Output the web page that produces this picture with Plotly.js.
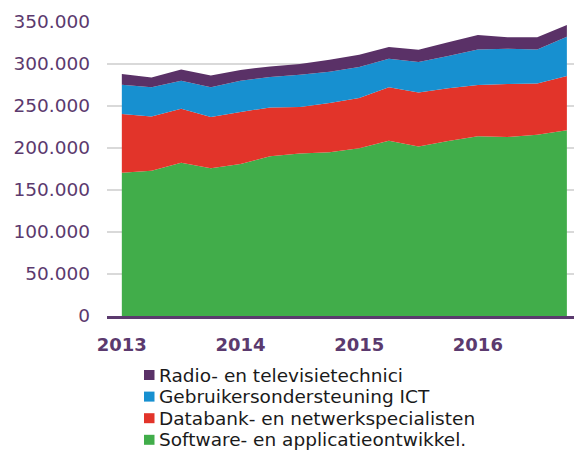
<!DOCTYPE html>
<html>
<head>
<meta charset="utf-8">
<script src="https://cdn.plot.ly/plotly-3.0.1.min.js"></script>
<style>html,body{margin:0;padding:0;background:#fff;overflow:hidden}#chart{width:574px;height:450px}</style>
</head>
<body>
<div id="chart"></div>
<script>
const quarters = ['2013-Q1','2013-Q2','2013-Q3','2013-Q4','2014-Q1','2014-Q2','2014-Q3','2014-Q4',
                  '2015-Q1','2015-Q2','2015-Q3','2015-Q4','2016-Q1','2016-Q2','2016-Q3','2016-Q4'];
const yearTickVals = ['2013-Q1','2014-Q1','2015-Q1','2016-Q1'];
const yearTickText = ['2013','2014','2015','2016'];

const software   = [170600,173000,182500,176000,181000,190200,193600,195000,199600,208700,201900,208300,213900,213100,215800,221000];
const databank   = [69900,64600,64300,60900,61900,58100,55200,58700,59900,63500,64300,62700,61100,63100,61100,64700];
const gebruikers = [34900,34600,33300,35300,37200,36200,38500,37100,36900,34100,36200,38500,42400,42000,40500,46800];
const radio      = [12700,11800,13500,14200,12800,12600,12700,14200,14700,13900,14600,16300,17100,13500,14300,13900];

const seriesNames  = ['Software- en applicatieontwikkel.','Databank- en netwerkspecialisten','Gebruikersondersteuning ICT','Radio- en televisietechnici'];
const seriesValues = [software, databank, gebruikers, radio];
const seriesColors = ['#41ad4a','#e2342a','#1790d0','#5a3167'];

const traces = seriesValues.map((vals, i) => ({
  type: 'scatter',
  x: quarters,
  y: vals,
  name: seriesNames[i],
  stackgroup: 'one',
  mode: 'none',
  fill: 'tonexty',
  fillcolor: seriesColors[i],
  showlegend: false,
  hoverinfo: 'x+y+name'
}));

// Legend drawn below the plot (top item = last series)
const plotLeft = 107, plotWidth = 467, plotTop = 22, plotHeight = 294;
const px = p => (p - plotLeft) / plotWidth;
const py = p => (plotTop + plotHeight - p) / plotHeight;
const legendFirstY = 375, legendStep = 21.6;
const shapes = [], annotations = [];
for (let k = 0; k < 4; k++) {
  const i = 3 - k;
  const cy = legendFirstY + k * legendStep;
  shapes.push({type:'rect', xref:'paper', yref:'paper',
    x0: px(144), x1: px(154.5), y0: py(cy - 5), y1: py(cy + 5),
    fillcolor: seriesColors[i], line:{width:0}});
  annotations.push({xref:'paper', yref:'paper', x: px(157), y: py(cy),
    xanchor:'left', yanchor:'middle', showarrow:false, text: seriesNames[i],
    font:{family:'DejaVu Sans', size:18.5, color:'#1a1a1a'}});
}

const layout = {
  width: 574, height: 450,
  margin: {l: plotLeft, r: 0, t: plotTop, b: 450 - plotTop - plotHeight, pad: 0},
  paper_bgcolor: '#ffffff', plot_bgcolor: '#ffffff',
  separators: ',.',
  showlegend: false,
  xaxis: {
    type: 'category',
    range: [-0.5, 15.24],
    tickvals: yearTickVals, ticktext: yearTickText,
    ticks: '', showgrid: false, zeroline: false,
    showline: true, linecolor: '#5b3a6e', linewidth: 2.5,
    tickfont: {family: 'DejaVu Sans', size: 18, color: '#5b3a6e', weight: 'bold'},
    ticklabelstandoff: 11
  },
  yaxis: {
    range: [0, 350000], dtick: 50000, tickformat: ',d',
    ticks: '', showline: false, zeroline: false,
    showgrid: true, gridcolor: '#d9d9d9', gridwidth: 1.5,
    tickfont: {family: 'DejaVu Sans', size: 18.5, color: '#5b3a6e'},
    ticklabelstandoff: 16
  },
  shapes: shapes,
  annotations: annotations
};

Plotly.newPlot('chart', traces, layout, {displayModeBar: false, staticPlot: true});
</script>
</body>
</html>
